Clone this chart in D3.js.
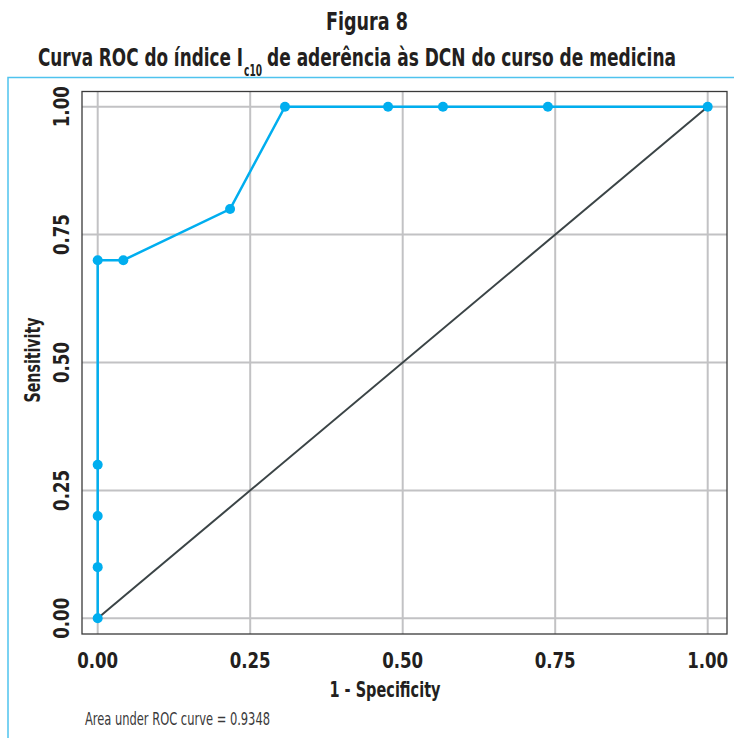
<!DOCTYPE html>
<meta charset="utf-8">
<head>
<title>Curva ROC</title>
<script src="https://d3js.org/d3.v7.min.js"></script>
<style>
  body { margin: 0; background: #fff; }
  text { font-family: "Liberation Sans Narrow", "DejaVu Sans", sans-serif; font-stretch: condensed; }
</style>
</head>
<body>
<svg id="chart"></svg>
<script>
// ROC points
var fpr = [0, 0, 0, 0, 0, 0.042, 0.217, 0.307, 0.476, 0.566, 0.738, 1.0];
var tpr = [0, 0.1, 0.2, 0.3, 0.7, 0.7, 0.8, 1.0, 1.0, 1.0, 1.0, 1.0];
var ticks = [0, 0.25, 0.5, 0.75, 1];
var tickLabels = ["0.00", "0.25", "0.50", "0.75", "1.00"];
var aucText = "Area under ROC curve = 0.9348";

var W = 734, H = 738;
var svg = d3.select("#chart").attr("width", W).attr("height", H);

var x = d3.scaleLinear().domain([0, 1]).range([97.7, 707.7]);
var y = d3.scaleLinear().domain([0, 1]).range([618.3, 106.7]);

// small helper: text squeezed to a given width
function txt(px, py, s, size, len, bold, anchor) {
  var e = svg.append("text").attr("x", px).attr("y", py)
    .attr("font-size", size).attr("fill", "#231f20")
    .attr("text-anchor", anchor || "start").text(s);
  if (bold) e.attr("font-weight", "bold");
  if (len) e.attr("textLength", len).attr("lengthAdjust", "spacingAndGlyphs");
  return e;
}

// light blue frame
svg.append("path").attr("d", "M8,738 V77.5 H734").attr("fill", "none")
  .attr("stroke", "#4fc3ee").attr("stroke-width", 1.5);

// titles
txt(326, 30, "Figura 8", 25, 82, true);
txt(38, 66, "Curva ROC do índice I", 25, 205, true);
txt(244, 76, "c10", 15, 18, true);
txt(267, 66, "de aderência às DCN do curso de medicina", 25, 409, true);

// grid
var g = svg.append("g");
g.selectAll("line.vx").data(ticks).enter().append("line")
  .attr("x1", d => x(d)).attr("x2", d => x(d)).attr("y1", 91.5).attr("y2", 634)
  .attr("stroke", "#c2c2c4").attr("stroke-width", 2);
g.selectAll("line.hy").data(ticks).enter().append("line")
  .attr("y1", d => y(d)).attr("y2", d => y(d)).attr("x1", 82).attr("x2", 727)
  .attr("stroke", "#c2c2c4").attr("stroke-width", 2);

// box
svg.append("rect").attr("x", 82).attr("y", 91.5).attr("width", 645).attr("height", 542.5)
  .attr("fill", "none").attr("stroke", "#3a3a3a").attr("stroke-width", 1.3);

// diagonal
svg.append("line").attr("x1", x(0)).attr("y1", y(0)).attr("x2", x(1)).attr("y2", y(1))
  .attr("stroke", "#3b4446").attr("stroke-width", 2);

// ROC curve
var pts = fpr.map((d, i) => [d, tpr[i]]);
svg.append("path").datum(pts)
  .attr("d", d3.line().x(d => x(d[0])).y(d => y(d[1])))
  .attr("fill", "none").attr("stroke", "#00aeef").attr("stroke-width", 2.5);
svg.selectAll("circle").data(pts).enter().append("circle")
  .attr("cx", d => x(d[0])).attr("cy", d => y(d[1])).attr("r", 5)
  .attr("fill", "#00aeef");

// tick labels
svg.selectAll("text.xt").data(ticks).enter().append("text")
  .attr("x", d => x(d)).attr("y", 668).attr("text-anchor", "middle")
  .attr("font-weight", "bold").attr("font-size", 21).attr("fill", "#231f20")
  .attr("textLength", 41).attr("lengthAdjust", "spacingAndGlyphs")
  .text((d, i) => tickLabels[i]);
svg.selectAll("text.yt").data(ticks).enter().append("text")
  .attr("transform", d => "translate(69," + y(d) + ") rotate(-90)")
  .attr("text-anchor", "middle")
  .attr("font-weight", "bold").attr("font-size", 21).attr("fill", "#231f20")
  .attr("textLength", 41).attr("lengthAdjust", "spacingAndGlyphs")
  .text((d, i) => tickLabels[i]);

// axis titles
txt(385, 697, "1 - Specificity", 21, 111, true, "middle");
svg.append("text").attr("transform", "translate(40,360) rotate(-90)").attr("text-anchor", "middle")
  .attr("font-weight", "bold").attr("font-size", 21).attr("fill", "#231f20")
  .attr("textLength", 85).attr("lengthAdjust", "spacingAndGlyphs").text("Sensitivity");

txt(85, 725, aucText, 17, 185, false).attr("fill", "#3a3a3a");
</script>
</body>
